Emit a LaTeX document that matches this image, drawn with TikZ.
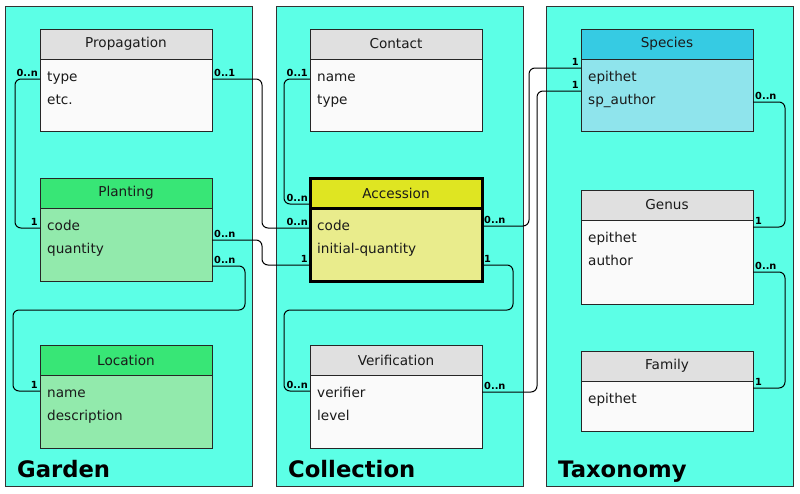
\documentclass[tikz,border=0pt]{standalone}
\usepackage{fontspec}
\setmainfont{DejaVu Sans}
\usetikzlibrary{positioning}
\definecolor{panelcyan}{HTML}{5CFFE6}
\definecolor{greyhead}{HTML}{E0E0E0}
\definecolor{greybody}{HTML}{FAFAFA}
\definecolor{greenhead}{HTML}{38E676}
\definecolor{greenbody}{HTML}{92EAAC}
\definecolor{yellowhead}{HTML}{DFE522}
\definecolor{yellowbody}{HTML}{E9EC8C}
\definecolor{bluehead}{HTML}{36CBE3}
\definecolor{bluebody}{HTML}{8FE4EC}
\definecolor{inkgrey}{HTML}{1A1A1A}

\begin{document}
\begin{tikzpicture}[
        x=1pt,y=-1pt,
        every node/.style={font=\fontsize{13.6}{16}\selectfont, text=inkgrey},
        panel/.style={draw=black!80, fill=panelcyan, line width=0.8pt},
        head/.style={draw=black!85, line width=1pt, minimum width=172pt,
          minimum height=30pt, inner sep=0pt, outer sep=0pt},
        body/.style={head, minimum height=#1},
        attr/.style={anchor=base west, inner sep=0pt},
        link/.style={draw=black, line width=1pt, rounded corners=6pt},
        card/.style={font=\fontsize{9.8}{10}\selectfont\bfseries, text=black, inner sep=2pt},
        cl/.style={card, anchor=south east},
        cr/.style={card, anchor=south west},
        zone/.style={font=\fontsize{22.7}{26}\selectfont\bfseries, text=black, anchor=base west, inner sep=0pt},
        ]
        \useasboundingbox (0,0) rectangle (800,493);

        % panels
        \draw[panel] (5,6) rectangle (252,486);
        \draw[panel] (276,6) rectangle (523,486);
        \draw[panel] (546,6) rectangle (793,486);
        \node[zone] (garden) at (17,477) {Garden};
        \node[zone] (collection) at (288,477) {Collection};
        \node[zone] (taxonomy) at (558,477) {Taxonomy};

        % garden
        \node[head, fill=greyhead] (prop) at (126,44) {Propagation};
        \node[body=72pt, fill=greybody, below=0pt of prop] (prop-b) {};
        \node[attr] (prop-a1) at (47,81) {type};
        \node[attr] (prop-a2) at (47,104) {etc.};

        \node[head, fill=greenhead] (plant) at (126,193) {Planting};
        \node[body=73pt, fill=greenbody, below=0pt of plant] (plant-b) {};
        \node[attr] (plant-a1) at (47,230) {code};
        \node[attr] (plant-a2) at (47,253) {quantity};

        \node[head, fill=greenhead] (loc) at (126,360) {Location};
        \node[body=73pt, fill=greenbody, below=0pt of loc] (loc-b) {};
        \node[attr] (loc-a1) at (47,397) {name};
        \node[attr] (loc-a2) at (47,420) {description};

        % collection
        \node[head, fill=greyhead] (cont) at (396,44) {Contact};
        \node[body=72pt, fill=greybody, below=0pt of cont] (cont-b) {};
        \node[attr] (cont-a1) at (317,81) {name};
        \node[attr] (cont-a2) at (317,104) {type};

        \node[head, fill=yellowhead, draw=black, line width=3pt] (acc) at (396,193) {Accession};
        \node[body=73pt, fill=yellowbody, draw=black, line width=3pt, below=0pt of acc] (acc-b) {};
        \node[attr] (acc-a1) at (317,230) {code};
        \node[attr] (acc-a2) at (317,253) {initial-quantity};

        \node[head, fill=greyhead] (ver) at (396,360) {Verification};
        \node[body=73pt, fill=greybody, below=0pt of ver] (ver-b) {};
        \node[attr] (ver-a1) at (317,397) {verifier};
        \node[attr] (ver-a2) at (317,420) {level};

        % taxonomy
        \node[head, fill=bluehead] (sp) at (667,44) {Species};
        \node[body=72pt, fill=bluebody, below=0pt of sp] (sp-b) {};
        \node[attr] (sp-a1) at (588,81) {epithet};
        \node[attr] (sp-a2) at (588,104) {sp\_author};

        \node[head, fill=greyhead] (gen) at (667,205) {Genus};
        \node[body=84pt, fill=greybody, below=0pt of gen] (gen-b) {};
        \node[attr] (gen-a1) at (588,242) {epithet};
        \node[attr] (gen-a2) at (588,265) {author};

        \node[head, fill=greyhead] (fam) at (667,366) {Family};
        \node[body=50pt, fill=greybody, below=0pt of fam] (fam-b) {};
        \node[attr] (fam-a1) at (588,403) {epithet};

        % ports
        \coordinate (prop-l) at (prop-b.west |- 0,79);
        \coordinate (prop-r) at (prop-b.east |- 0,79);
        \coordinate (plant-l) at (plant-b.west |- 0,228);
        \coordinate (plant-r1) at (plant-b.east |- 0,240);
        \coordinate (plant-r2) at (plant-b.east |- 0,266);
        \coordinate (loc-l) at (loc-b.west |- 0,391);
        \coordinate (cont-l) at (cont-b.west |- 0,79);
        \coordinate (acc-lh) at (acc.west |- 0,204);
        \coordinate (acc-l1) at (acc-b.west |- 0,228);
        \coordinate (acc-l2) at (acc-b.west |- 0,265);
        \coordinate (acc-r1) at (acc-b.east |- 0,226);
        \coordinate (acc-r2) at (acc-b.east |- 0,265);
        \coordinate (ver-l) at (ver-b.west |- 0,391);
        \coordinate (ver-r) at (ver-b.east |- 0,392);
        \coordinate (sp-l1) at (sp-b.west |- 0,68);
        \coordinate (sp-l2) at (sp-b.west |- 0,91);
        \coordinate (sp-r) at (sp-b.east |- 0,102);
        \coordinate (gen-r1) at (gen-b.east |- 0,227);
        \coordinate (gen-r2) at (gen-b.east |- 0,272);
        \coordinate (fam-r) at (fam-b.east |- 0,388);

        % links
        \draw[link] (prop-l) -- ++(-25,0) |- (plant-l);
        \draw[link] (prop-r) -- ++(50,0) |- (acc-l1);
        \draw[link] (cont-l) -- ++(-26,0) |- (acc-lh);
        \draw[link] (plant-r1) -- ++(50,0) |- (acc-l2);
        \draw[link] (plant-r2) -- ++(33,0) |- ++(-232,44) |- (loc-l);
        \draw[link] (acc-r2) -- ++(31,0) |- ++(-229,45) |- (ver-l);
        \draw[link] (acc-r1) -- ++(47,0) |- (sp-l1);
        \draw[link] (ver-r) -- ++(55,0) |- (sp-l2);
        \draw[link] (sp-r) -- ++(32,0) |- (gen-r1);
        \draw[link] (gen-r2) -- ++(32,0) |- (fam-r);

        % cardinalities
        \node[cl] (prop-lc) at (prop-l) {0..n};
        \node[cr] (prop-rc) at (prop-r) {0..1};
        \node[cl] (plant-lc) at (plant-l) {1};
        \node[cr] (plant-r1c) at (plant-r1) {0..n};
        \node[cr] (plant-r2c) at (plant-r2) {0..n};
        \node[cl] (loc-lc) at (loc-l) {1};
        \node[cl] (cont-lc) at (cont-l) {0..1};
        \node[cl] (acc-lhc) at (acc-lh) {0..n};
        \node[cl] (acc-l1c) at (acc-l1) {0..n};
        \node[cl] (acc-l2c) at (acc-l2) {1};
        \node[cr] (acc-r1c) at (acc-r1) {0..n};
        \node[cr] (acc-r2c) at (acc-r2) {1};
        \node[cl] (ver-lc) at (ver-l) {0..n};
        \node[cr] (ver-rc) at (ver-r) {0..n};
        \node[cl] (sp-l1c) at (sp-l1) {1};
        \node[cl] (sp-l2c) at (sp-l2) {1};
        \node[cr] (sp-rc) at (sp-r) {0..n};
        \node[cr] (gen-r1c) at (gen-r1) {1};
        \node[cr] (gen-r2c) at (gen-r2) {0..n};
        \node[cr] (fam-rc) at (fam-r) {1};
      \end{tikzpicture}
\end{document}
